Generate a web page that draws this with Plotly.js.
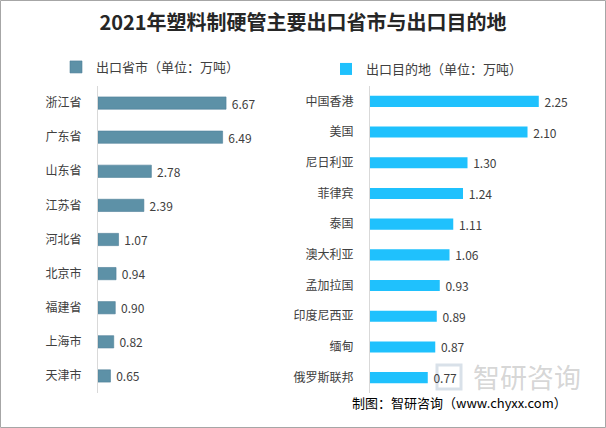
<!DOCTYPE html>
<html>
<head>
<meta charset="utf-8">
<script src="https://cdn.plot.ly/plotly-3.0.1.min.js"></script>
<style>html,body{margin:0;padding:0;background:#fff;}#chart{width:606px;height:428px;}</style>
</head>
<body>
<div id="chart"></div>
<script>
// Data
const provinces = ['浙江省','广东省','山东省','江苏省','河北省','北京市','福建省','上海市','天津市'];
const provinceValues = [6.67, 6.49, 2.78, 2.39, 1.07, 0.94, 0.90, 0.82, 0.65];
const destinations = ['中国香港','美国','尼日利亚','菲律宾','泰国','澳大利亚','孟加拉国','印度尼西亚','缅甸','俄罗斯联邦'];
const destinationValues = [2.25, 2.10, 1.30, 1.24, 1.11, 1.06, 0.93, 0.89, 0.87, 0.77];
const seriesNames = ['出口省市（单位：万吨）', '出口目的地（单位：万吨）'];
const titleText = '2021年塑料制硬管主要出口省市与出口目的地';
const sourceText = '制图：智研咨询（www.chyxx.com）';

const W = 606, H = 428;
const px = v => v / W;
const py = v => 1 - v / H;
const CJK = '"Noto Sans CJK SC", "Microsoft YaHei", sans-serif';
const textColor = '#404040';

const traces = [
  {
    type: 'bar', orientation: 'h',
    y: provinces, x: provinceValues,
    name: seriesNames[0],
    marker: {color: '#5d91a7', line: {color: '#4f8098', width: 0.6}},
    width: 0.36,
    texttemplate: '\u00a0%{x:.2f}', textposition: 'outside', cliponaxis: false, constraintext: 'none',
    textfont: {family: CJK, size: 12, color: textColor},
    xaxis: 'x', yaxis: 'y', legend: 'legend',
    hoverinfo: 'y+x'
  },
  {
    type: 'bar', orientation: 'h',
    y: destinations, x: destinationValues,
    name: seriesNames[1],
    marker: {color: '#1fc1fd'},
    width: 0.36,
    texttemplate: '\u00a0%{x:.2f}', textposition: 'outside', cliponaxis: false, constraintext: 'none',
    textfont: {family: CJK, size: 12, color: textColor},
    xaxis: 'x2', yaxis: 'y2', legend: 'legend2',
    hoverinfo: 'y+x'
  }
];

const yDomain = [py(393), py(86)];
const xAxisCommon = {showgrid: false, zeroline: false, showticklabels: false, showline: false, ticks: '', fixedrange: true};
const yAxisCommon = {
  type: 'category', autorange: false, showgrid: false, zeroline: false,
  showline: true, linecolor: '#d9d9d9', linewidth: 1, ticks: '',
  ticklabelstandoff: 13,
  tickfont: {family: CJK, size: 12, color: textColor}, domain: yDomain, fixedrange: true
};

const layout = {
  width: W, height: H,
  margin: {l: 0, r: 0, t: 0, b: 0},
  paper_bgcolor: '#ffffff', plot_bgcolor: 'rgba(0,0,0,0)',
  showlegend: true,
  title: {
    text: '<b>' + titleText + '</b>',
    x: 0.5, xanchor: 'center', y: py(23), yanchor: 'middle', xref: 'paper', yref: 'paper',
    font: {family: CJK, size: 20, color: '#262626'}
  },
  xaxis: Object.assign({}, xAxisCommon, {domain: [px(98), px(290)], range: [0, 10], anchor: 'y'}),
  yaxis: Object.assign({}, yAxisCommon, {anchor: 'x', range: [provinces.length - 0.5, -0.5]}),
  xaxis2: Object.assign({}, xAxisCommon, {domain: [px(370), px(590)], range: [0, 2.933], anchor: 'y2'}),
  yaxis2: Object.assign({}, yAxisCommon, {anchor: 'x2', range: [destinations.length - 0.5, -0.5]}),
  legend: {
    x: px(56), xanchor: 'left', y: py(67), yanchor: 'middle',
    bgcolor: 'rgba(0,0,0,0)', borderwidth: 0,
    font: {family: CJK, size: 13, color: textColor}, itemclick: false, itemdoubleclick: false
  },
  legend2: {
    x: px(326), xanchor: 'left', y: py(69), yanchor: 'middle',
    bgcolor: 'rgba(0,0,0,0)', borderwidth: 0,
    font: {family: CJK, size: 13, color: textColor}, itemclick: false, itemdoubleclick: false
  },
  shapes: [
    {type: 'rect', xref: 'paper', yref: 'paper', x0: px(0.5), x1: px(605.5), y0: py(427.5), y1: py(0.5),
     line: {color: '#a6a6a6', width: 1}, fillcolor: 'rgba(0,0,0,0)', layer: 'above'},
    {type: 'rect', xref: 'paper', yref: 'paper', x0: px(437), x1: px(461), y0: py(389), y1: py(365),
     line: {color: 'rgba(160,180,200,0.4)', width: 3}, fillcolor: 'rgba(0,0,0,0)', layer: 'below'}
  ],
  annotations: [
    {text: '智研咨询', xref: 'paper', yref: 'paper', x: px(527), y: py(376), xanchor: 'center', yanchor: 'middle',
     showarrow: false, font: {family: CJK, size: 27, color: 'rgba(150,150,150,0.4)'}},
    {text: sourceText, xref: 'paper', yref: 'paper', x: px(350), y: py(402), xanchor: 'left', yanchor: 'middle',
     showarrow: false, font: {family: CJK, size: 13, color: '#000000'}}
  ]
};

Plotly.newPlot('chart', traces, layout, {displayModeBar: false, responsive: false});
</script>
</body>
</html>
